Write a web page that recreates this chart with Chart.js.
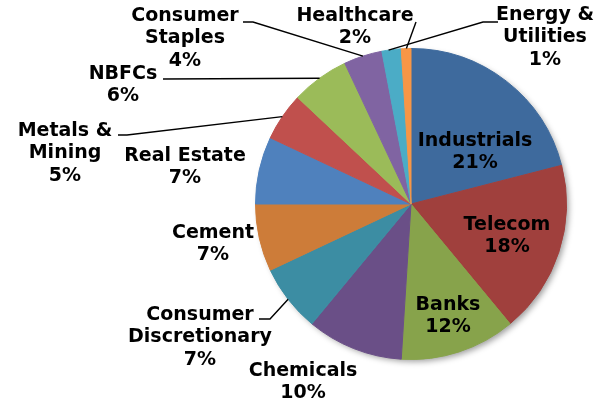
<!DOCTYPE html>
<html>
<head>
<meta charset="utf-8">
<script src="https://cdn.jsdelivr.net/npm/chart.js@4"></script>
<style>
  html, body { margin: 0; padding: 0; background: #fff; }
  #wrap { width: 596px; height: 403px; }
</style>
</head>
<body>
<div id="wrap"><canvas id="sectors" width="596" height="403"></canvas></div>
<script>
const sectors = ['Industrials', 'Telecom', 'Banks', 'Chemicals', 'Consumer Discretionary', 'Cement',
  'Real Estate', 'Metals & Mining', 'NBFCs', 'Consumer Staples', 'Healthcare', 'Energy & Utilities'];
const weights = [21, 18, 12, 10, 7, 7, 7, 5, 6, 4, 2, 1];
const sliceColors = ['#3E6A9D', '#A0403D', '#87A34B', '#6A4F87', '#3C8DA3', '#CD7C39',
  '#4F81BD', '#C0504D', '#9BBB59', '#8064A2', '#4BACC6', '#F79646'];

// label placement, relative to the pie centre; lead = elbow points of the leader line,
// nudge = degrees to shift the leader tip along the rim
const labelSpots = [
  {dx: 64, dy: -63},
  {dx: 96, dy: 21},
  {dx: 37, dy: 101},
  {dx: -108, dy: 167},
  {dx: -211, dy: 111, wrap: true, lead: [[-152, 115], [-141, 115]]},
  {dx: -198, dy: 29},
  {dx: -226, dy: -48},
  {dx: -346, dy: -73, wrap: true, lead: [[-293, -69], [-284, -69]]},
  {dx: -288, dy: -130, lead: [[-248, -125]]},
  {dx: -226, dy: -188, wrap: true, lead: [[-168, -182], [-158, -182]]},
  {dx: -56, dy: -188, lead: [[5, -182]], nudge: 5.5},
  {dx: 134, dy: -189, wrap: true, lead: [[87, -182], [72, -182]], nudge: -6.5},
];

const FONT = 'bold 19px "DejaVu Sans", Verdana, sans-serif';
const LINE_H = 22.5;

const pieShadow = {
  id: 'pieShadow',
  beforeDatasetsDraw(chart) {
    const arc = chart.getDatasetMeta(0).data[0];
    if (!arc) return;
    const ctx = chart.ctx;
    ctx.save();
    ctx.shadowColor = 'rgba(0,0,0,0.4)';
    ctx.shadowBlur = 6;
    ctx.shadowOffsetX = 3;
    ctx.shadowOffsetY = 3;
    ctx.fillStyle = '#fff';
    ctx.beginPath();
    ctx.arc(arc.x, arc.y, arc.outerRadius - 1, 0, Math.PI * 2);
    ctx.fill();
    ctx.restore();
  }
};

const sliceLabels = {
  id: 'sliceLabels',
  afterDatasetsDraw(chart) {
    const ctx = chart.ctx;
    const arcs = chart.getDatasetMeta(0).data;
    ctx.save();
    ctx.font = FONT;
    ctx.fillStyle = '#000';
    ctx.textAlign = 'center';
    ctx.textBaseline = 'middle';
    ctx.strokeStyle = '#000';
    ctx.lineWidth = 1.4;
    arcs.forEach((arc, i) => {
      const spot = labelSpots[i];
      const cx = arc.x, cy = arc.y;
      let lines = [sectors[i]];
      if (spot.wrap) {
        const cut = sectors[i].lastIndexOf(' ');
        lines = [sectors[i].slice(0, cut), sectors[i].slice(cut + 1)];
      }
      lines.push(weights[i] + '%');
      lines.forEach((t, k) => ctx.fillText(t, cx + spot.dx, cy + spot.dy + k * LINE_H));

      if (spot.lead) {
        const mid = (arc.startAngle + arc.endAngle) / 2 + (spot.nudge || 0) * Math.PI / 180;
        const tx = cx + Math.cos(mid) * arc.outerRadius;
        const ty = cy + Math.sin(mid) * arc.outerRadius;
        ctx.beginPath();
        spot.lead.forEach(([px, py], k) => {
          if (k === 0) ctx.moveTo(cx + px, cy + py); else ctx.lineTo(cx + px, cy + py);
        });
        ctx.lineTo(tx, ty);
        ctx.stroke();
      }
    });
    ctx.restore();
  }
};

new Chart(document.getElementById('sectors'), {
  type: 'pie',
  data: {
    labels: sectors,
    datasets: [{
      data: weights,
      backgroundColor: sliceColors,
      borderColor: sliceColors,
      borderWidth: 1,
    }]
  },
  options: {
    responsive: false,
    animation: false,
    devicePixelRatio: 1,
    layout: {padding: {left: 255, right: 29, top: 48, bottom: 43}},
    plugins: {
      legend: {display: false},
      tooltip: {enabled: false},
    },
  },
  plugins: [pieShadow, sliceLabels]
});
</script>
</body>
</html>
